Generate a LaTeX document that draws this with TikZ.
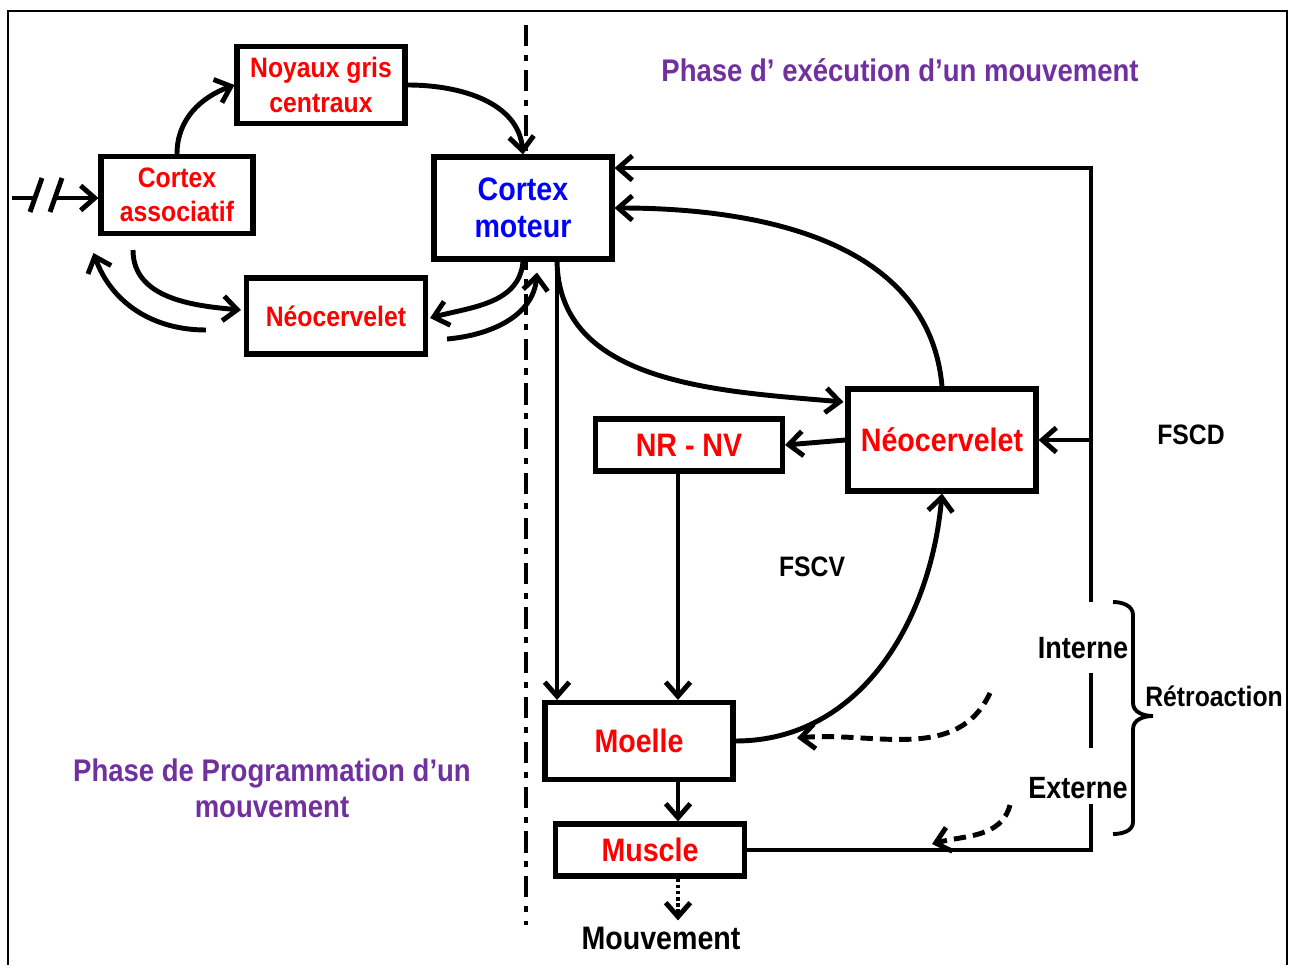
\documentclass[tikz,border=0pt]{standalone}
\usepackage{fontspec}
\setmainfont{Liberation Sans}[FakeStretch=0.88]
\usepackage{xcolor}
\usepackage{tikz}
\usetikzlibrary{arrows.meta}
\definecolor{violet2}{HTML}{7030A0}
\tikzset{bx/.style={rectangle,draw,fill=white,line width=2.9pt,align=center,inner sep=0pt},
  pt/.style={font=\bfseries\fontsize{16}{19.5}\selectfont},
  gd/.style={font=\bfseries\fontsize{18.5}{21}\selectfont},
  tx/.style={font=\bfseries\fontsize{16}{19}\selectfont},
  tg/.style={font=\bfseries\fontsize{17.5}{20}\selectfont},
  ph/.style={text=violet2,align=center,font=\bfseries\fontsize{17.8}{20.5}\selectfont},
  ln/.style={line width=2.8pt},
  fl/.style={->,line width=2.8pt}}

\begin{document}
\begin{tikzpicture}[x=0.02cm,y=0.02cm,>={Straight Barb[length=8pt,width=14pt]}]
    \useasboundingbox (0,0) rectangle (1297,965);
    \draw [line width=1.2pt] (8,0) -- (8,954) -- (1287,954) -- (1287,0);
    \draw [ln,dash pattern=on 12pt off 5pt on 3.5pt off 5pt] (526,940) -- (526,40);

    \node[bx,pt,text=red,minimum width=3.04cm,minimum height=1.54cm] (ca)at (177,770) {Cortex\\associatif};
    \node[bx,pt,text=red,minimum width=3.36cm,minimum height=1.54cm] (ng)at (321,880) {Noyaux gris\\centraux};
    \node[bx,gd,text=blue,minimum width=3.56cm,minimum height=2.04cm] (cm)at (523,757) {Cortex\\moteur};
    \node[bx,pt,text=red,minimum width=3.58cm,minimum height=1.52cm] (nl)at (336,649) {Néocervelet};
    \node[bx,gd,text=red,minimum width=3.76cm,minimum height=2.04cm] (nr)at (942,525) {Néocervelet};
    \node[bx,gd,text=red,minimum width=3.74cm,minimum height=1.04cm] (nv)at (689,520) {NR - NV};
    \node[bx,gd,text=red,minimum width=3.76cm,minimum height=1.54cm] (mo)at (639,224) {Moelle};
    \node[bx,gd,text=red,minimum width=3.78cm,minimum height=1.04cm] (mu)at (650,115) {Muscle};

    \node[ph] (p1)at (900,895) {Phase d’ exécution d’un mouvement};
    \node[ph] (p2)at (272,177) {Phase de Programmation d’un\\mouvement};
    \node[tx] (fd)at (1191,530) {FSCD};
    \node[tx] (fv)at (812,398) {FSCV};
    \node[tg] (int)at (1083,317) {Interne};
    \node[tg] (ext)at (1078,177) {Externe};
    \node[tx] (ret)at (1214,269) {Rétroaction};
    \node[tg,font=\bfseries\fontsize{18.5}{21}\selectfont] (mvt)at (661,27) {Mouvement};

    \coordinate (e0) at (12,767);
    \coordinate (e1) at (37,767);
    \coordinate (e2) at (57,767);
    \draw [ln] (e0) -- (e1);
    \draw [ln] (30,753) -- (42,787);
    \draw [ln] (50,753) -- (62,787);
    \draw [fl] (e2) -- (e2 -| ca.west);

    \draw [fl] (ca.north) to [out=90,in=200] (ng.west);
    \draw [fl] (ng.east) to [out=0,in=95] (cm.north);
    \draw [fl] ([shift={(-44,-14)}]ca.south) to [out=-90,in=175] ([shift={(-3,6)}]nl.west);
    \draw [fl] ([shift={(-38,-14)}]nl.west) to [out=180,in=-70] ([shift={(-5,-17)}]ca.south west);
    \draw [fl] (cm.south) to [out=-95,in=15] ([shift={(2,-2)}]nl.east);
    \draw [fl] ([shift={(19,-23)}]nl.east) to [out=5,in=-95] ([shift={(14,-11)}]cm.south);

    \coordinate (c1) at (557,706);
    \coordinate (v) at (678,0);
    \draw [fl] (c1) -- (c1 |- mo.north);
    \draw [fl] (c1) to [out=-90,in=175] ([shift={(-2,38)}]nr.west);
    \draw [fl] (nr.north) to [out=95,in=0] (cm.east);
    \draw [fl] (nr.west) -- (nv.east);
    \draw [fl] (nv.south -| v) -- (mo.north -| v);
    \draw [fl] (mo.east) to [out=0,in=-95] (nr.south);
    \draw [fl] (mo.south -| v) -- (mu.north -| v);
    \draw [fl,dash pattern=on 2pt off 1.5pt] (mu.south -| v) -- (mvt.north -| v);

    \coordinate (r0) at (1091,115);
    \coordinate (r1) at (1091,161);
    \coordinate (r2) at (1091,217);
    \coordinate (r3) at (1091,292);
    \coordinate (r4) at (1091,363);
    \coordinate (r5) at (1091,797);
    \draw [ln] (mu.east) -- (r0) -- (r1);
    \draw [ln] (r2) -- (r3);
    \draw [fl] (r4) -- (r5) -- (r5 -| cm.east);
    \draw [fl] (nr.east -| r5) -- (nr.east);

    \coordinate (d1) at (990,272);
    \coordinate (d2) at (797,227);
    \coordinate (d3) at (1010,160);
    \coordinate (d4) at (932,121);
    \draw [fl,dash pattern=on 7pt off 4pt] (d1) to [out=-115,in=5] (d2);
    \draw [fl,dash pattern=on 7pt off 4pt] (d3) to [out=-105,in=15] (d4);

    \draw [line width=2.2pt] (1113,363) to [out=0,in=90] (1133,350) -- (1133,262) to [out=-90,in=180] (1153,249)
        to [out=180,in=90] (1133,236) -- (1133,143) to [out=-90,in=0] (1113,131);
\end{tikzpicture}
\end{document}
